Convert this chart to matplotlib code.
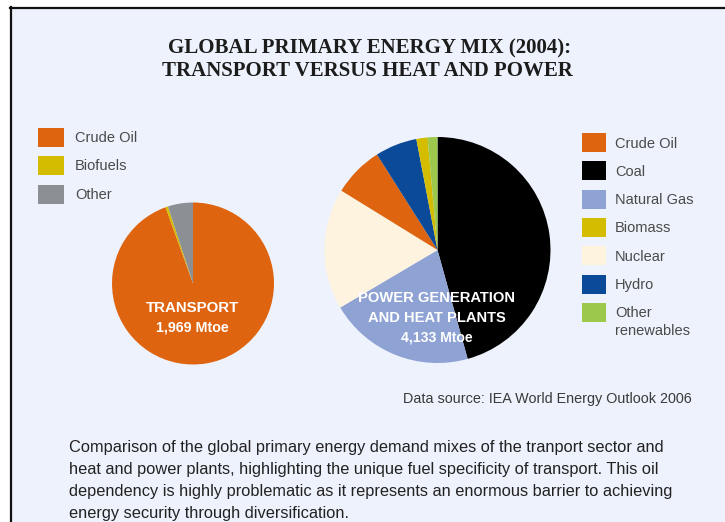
import matplotlib
matplotlib.use("Agg")
import matplotlib.pyplot as plt
from matplotlib.patches import Rectangle
from matplotlib.lines import Line2D

# ---------------- data ----------------
title_lines = ["GLOBAL PRIMARY ENERGY MIX (2004):", "TRANSPORT VERSUS HEAT AND POWER"]

transport_labels = ["Crude Oil", "Biofuels", "Other"]
transport_values = [94.5, 0.5, 5.0]
transport_name = "TRANSPORT"
transport_total = "1,969 Mtoe"

power_labels = ["Coal", "Natural Gas", "Nuclear", "Crude Oil", "Hydro", "Biomass", "Other renewables"]
power_values = [45.7, 20.8, 17.3, 7.2, 6.0, 1.6, 1.4]
power_name = ["POWER GENERATION", "AND HEAT PLANTS"]
power_total = "4,133 Mtoe"

transport_legend = ["Crude Oil", "Biofuels", "Other"]
power_legend = ["Crude Oil", "Coal", "Natural Gas", "Biomass", "Nuclear", "Hydro", "Other\nrenewables"]

source_text = "Data source: IEA World Energy Outlook 2006"
caption_lines = [
    "Comparison of the global primary energy demand mixes of the tranport sector and",
    "heat and power plants, highlighting the unique fuel specificity of transport. This oil",
    "dependency is highly problematic as it represents an enormous barrier to achieving",
    "energy security through diversification.",
]

# ---------------- styles ----------------
colors = {
    "Crude Oil": "#DF640F",
    "Biofuels": "#D4BC00",
    "Other": "#8C8F94",
    "Coal": "#000000",
    "Natural Gas": "#8EA2D4",
    "Nuclear": "#FEF3DE",
    "Hydro": "#0A4A98",
    "Biomass": "#D4BC00",
    "Other renewables": "#9CC84B",
    "Other\nrenewables": "#9CC84B",
}
BG = "#EEF2FC"

W, H = 725, 522
fig = plt.figure(figsize=(W / 100, H / 100), dpi=100)
fig.patch.set_facecolor("white")


def fx(x):
    return x / W


def fy(y):
    return 1 - y / H


# frame
fig.patches.append(Rectangle((fx(10), fy(H + 5)), fx(W + 10) - fx(10), fy(7) - fy(H + 5),
                             transform=fig.transFigure, facecolor=BG, edgecolor="none", zorder=-5))
fig.lines.append(Line2D([fx(10.5), fx(10.5)], [fy(6.8), fy(H + 5)], transform=fig.transFigure,
                        color="#111111", lw=1.6, zorder=1))
fig.lines.append(Line2D([fx(10), fx(W + 5)], [fy(7.5), fy(7.5)], transform=fig.transFigure,
                        color="#111111", lw=1.6, zorder=1))

renderer = fig.canvas.get_renderer()


def ptext(x, y, s, target_w=None, size=10, **kw):
    t = fig.text(fx(x), fy(y), s, fontsize=size, **kw)
    if target_w is not None:
        w = t.get_window_extent(renderer).width
        t.set_fontsize(size * target_w / w)
    return t


# title
ptext(370, 53, title_lines[0], target_w=404, size=14, ha="center", va="baseline",
      family="Liberation Serif", weight="bold", color="#1c1c1c")
ptext(367, 75.5, title_lines[1], target_w=413, size=14, ha="center", va="baseline",
      family="Liberation Serif", weight="bold", color="#1c1c1c")


def pie_axes(cx, cy, r):
    ax = fig.add_axes([fx(cx - r), fy(cy + r), (2 * r) / W, (2 * r) / H])
    ax.set_facecolor("none")
    return ax


# transport pie
axT = pie_axes(193, 283.5, 81)
axT.pie(transport_values, colors=[colors[l] for l in transport_labels], startangle=90,
        counterclock=False, radius=1, wedgeprops=dict(linewidth=0))
axT.set_xlim(-1, 1)
axT.set_ylim(-1, 1)
axT.axis("off")

# power pie
axP = pie_axes(437.5, 250, 113)
axP.pie(power_values, colors=[colors[l] for l in power_labels], startangle=90,
        counterclock=False, radius=1, wedgeprops=dict(linewidth=0))
axP.set_xlim(-1, 1)
axP.set_ylim(-1, 1)
axP.axis("off")

sans = "Liberation Sans"
ptext(192, 312, transport_name, target_w=93, size=11, ha="center", va="baseline",
      family=sans, weight="bold", color="white", zorder=5)
ptext(192, 331.5, transport_total, target_w=73, size=9, ha="center", va="baseline",
      family=sans, weight="bold", color="white", zorder=5)
pg = ptext(437, 302, power_name[0], target_w=157, size=11, ha="center", va="baseline",
           family=sans, weight="bold", color="white", zorder=5)
ptext(437, 322, power_name[1], size=pg.get_fontsize(), ha="center", va="baseline",
      family=sans, weight="bold", color="white", zorder=5)
ptext(437, 341.5, power_total, target_w=72, size=9, ha="center", va="baseline",
      family=sans, weight="bold", color="white", zorder=5)

# legends
LEG_COLOR = "#4a4a4a"
leg_size = 10.5


def legend(items, x0, y_first, step, sw, sh, tx):
    for i, lab in enumerate(items):
        cy = y_first + i * step
        fig.patches.append(Rectangle((fx(x0), fy(cy + sh / 2)), sw / W, sh / H,
                                     transform=fig.transFigure, facecolor=colors[lab],
                                     edgecolor="none", zorder=2))
        lines = lab.split("\n")
        for j, ln in enumerate(lines):
            fig.text(fx(tx), fy(cy + 5 + j * 18), ln, fontsize=leg_size, family=sans,
                     color=LEG_COLOR, ha="left", va="baseline")


legend(transport_legend, 38, 137, 28.5, 26, 19, 75)
legend(power_legend, 582, 142.5, 28.3, 24, 19, 615)

# source
ptext(692, 403, source_text, target_w=290, size=10.5, ha="right", va="baseline",
      family=sans, color="#3a3a3a")

# caption
cap0 = ptext(69, 452, caption_lines[0], target_w=591, size=11, ha="left", va="baseline",
             family=sans, color="#222222")
cs = cap0.get_fontsize()
for i, ln in enumerate(caption_lines[1:], start=1):
    fig.text(fx(69), fy(452 + 22 * i), ln, fontsize=cs, family=sans, color="#222222",
             ha="left", va="baseline")

fig.savefig("out.png", dpi=100, facecolor=fig.get_facecolor())
